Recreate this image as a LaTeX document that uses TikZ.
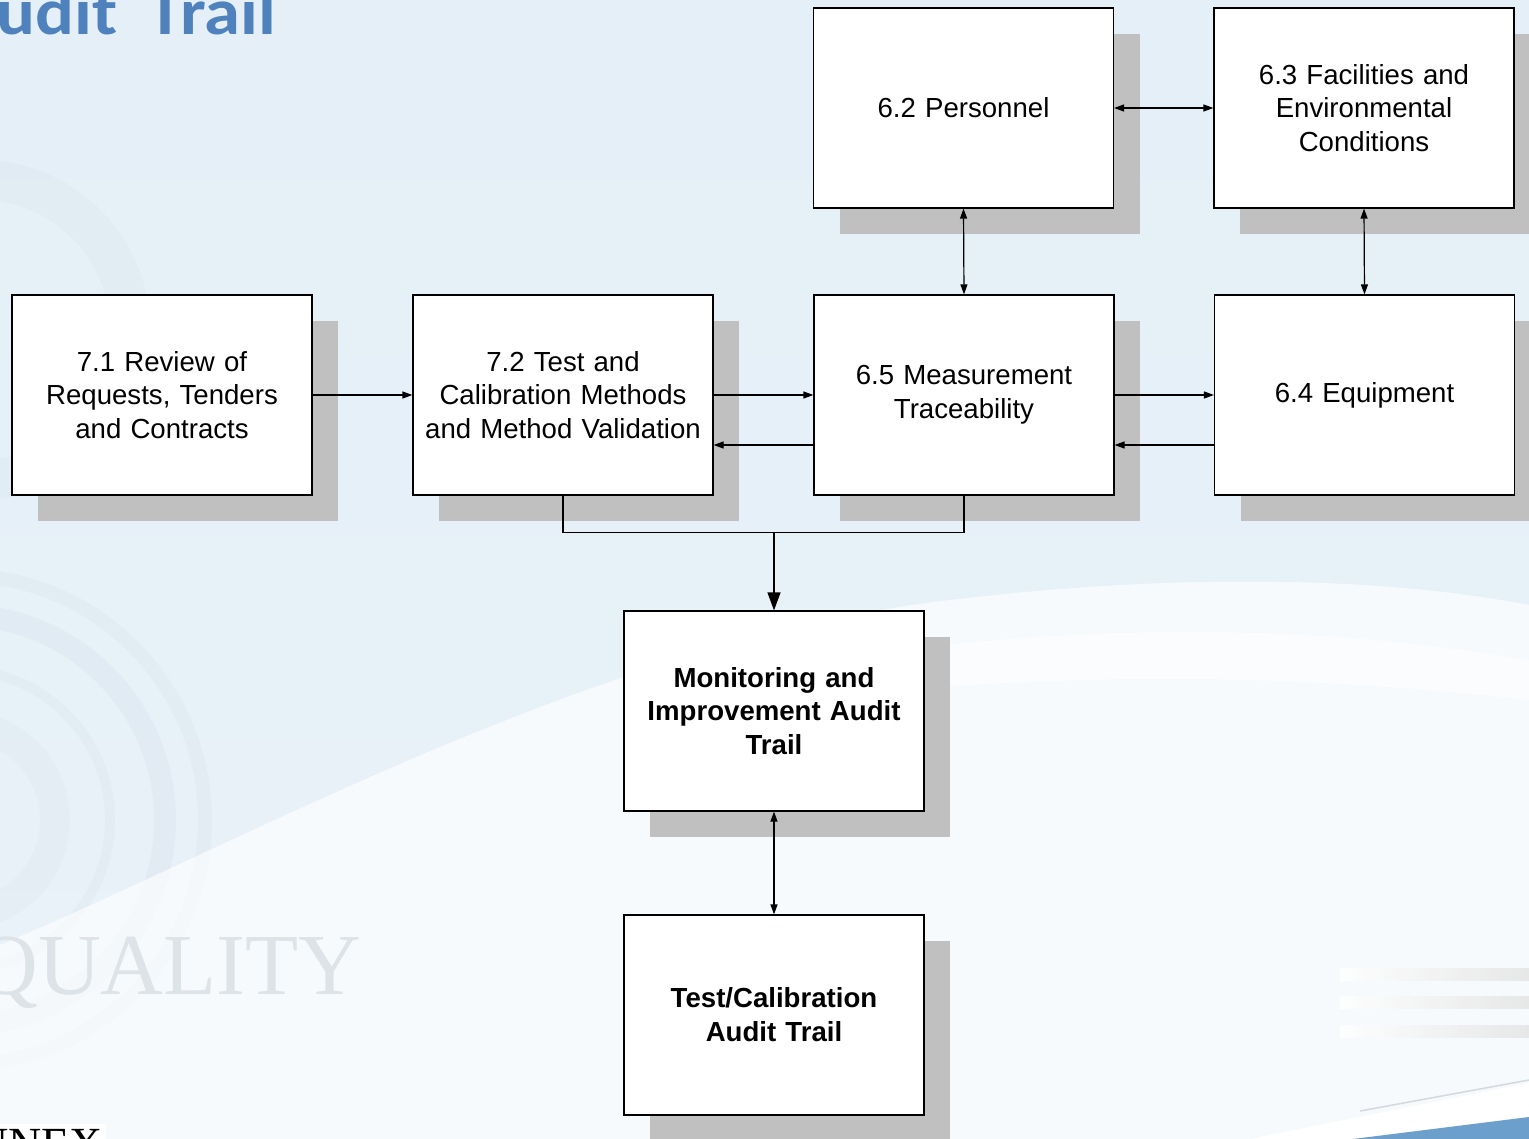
\documentclass[tikz,border=0pt]{standalone}
\usepackage{fontspec}
\setmainfont{Liberation Sans}
\newfontfamily\titlefont{Carlito}
\newfontfamily\serifmark{Liberation Serif}
\usetikzlibrary{arrows.meta,shadows,calc}

\definecolor{slidebg}{HTML}{E4EFF7}
\definecolor{slidewhite}{HTML}{F4F9FC}
\definecolor{shadowgray}{HTML}{C0C0C0}
\definecolor{titleblue}{HTML}{4F81BD}
\definecolor{markgray}{HTML}{DDE3E7}
\definecolor{stripeblue}{HTML}{6C9FCB}
\definecolor{gearshade}{HTML}{9FAAB3}

\tikzset{
  box/.style={draw=black, line width=1.2pt, fill=white,
    minimum width=300pt, minimum height=200pt, inner sep=0pt,
    text width=290pt, align=center,
    font=\fontsize{27.6}{33.8}\selectfont,
    drop shadow={shadow xshift=26pt, shadow yshift=-26pt, fill=shadowgray, opacity=1}},
  boldbox/.style={box, font=\fontsize{27.6}{33.8}\selectfont\bfseries},
  conn/.style={line width=1.2pt},
  link/.style={conn, -{Triangle[length=10pt,width=7pt]}},
  twoway/.style={conn, {Triangle[length=10pt,width=7pt]}-{Triangle[length=10pt,width=7pt]}},
  mainlink/.style={conn, -{Triangle[length=18pt,width=13pt]}}
}

\begin{document}
\begin{tikzpicture}[x=1pt, y=-1pt]
  \useasboundingbox (0,0) rectangle (1529,1139);
  \clip (0,0) rectangle (1529,1139);

  % slide background
  \shade[top color=slidebg, bottom color=slidebg!80!white] (0,0) rectangle (1529,1139);

  % faint gear at the left edge
  \foreach \r/\w/\o in {245/14/0.06, 205/22/0.07, 150/10/0.06, 95/30/0.05}
    \draw[gearshade, line width=\w pt, opacity=\o] (-40,820) circle (\r);
  \draw[gearshade, line width=40pt, opacity=0.05] (-20,330) circle (150);

  % white sweep across the lower part
  \fill[white, opacity=0.65]
    (0,945) .. controls (250,840) and (600,640) .. (950,600)
    .. controls (1200,570) and (1400,580) .. (1529,605)
    -- (1529,1139) -- (0,1139) -- cycle;
  \fill[white, opacity=0.5]
    (900,650) .. controls (1150,620) and (1350,630) .. (1529,660)
    -- (1529,700) .. controls (1350,680) and (1150,670) .. (900,690) -- cycle;

  % grey stripes and blue swoosh at lower right
  \foreach \yy in {968, 996, 1025}
    \shade[left color=white, right color=gray!22, opacity=0.8] (1340,\yy) rectangle (1529,\yy+12);
  \draw[gearshade!70, line width=1.5pt, opacity=0.6] (1360,1111) -- (1529,1080);
  \fill[white] (1250,1139) -- (1529,1083) -- (1529,1117) -- (1353,1139) -- cycle;
  \fill[stripeblue] (1353,1139) -- (1529,1117) -- (1529,1139) -- cycle;

  % slide title and watermark
  \node[anchor=base east, inner sep=0pt, text=titleblue, xscale=1.1,
        font=\titlefont\fontsize{66}{66}\selectfont\bfseries] (title) at (276,35) {Audit\hspace{13pt} Trail};
  \node[anchor=base east, inner sep=0pt, text=markgray,
        font=\serifmark\fontsize{87}{87}\selectfont] (mark) at (362,994) {QUALITY};
  \fill[white] (0,1124) rectangle (106,1139);
  \node[anchor=base east, inner sep=0pt, text=black,
        font=\serifmark\fontsize{46}{46}\selectfont] (annex) at (103,1159) {ANNEX};

  % process boxes
  \node[box] (p62) at (963.5,108) {6.2 Personnel};
  \node[box] (p63) at (1364,108) {6.3 Facilities and\\ Environmental\\ Conditions};
  \node[box] (p71) at (162,395) {7.1 Review of\\ Requests, Tenders\\ and Contracts};
  \node[box] (p72) at (563,395) {7.2 Test and\\ Calibration Methods\\ and Method Validation};
  \node[box] (p65) at (964,395) {6.5 Measurement\\ Traceability};
  \node[box] (p64) at (1364.5,395) {6.4 Equipment};
  \node[boldbox] (mon) at (774,711) {Monitoring and\\ Improvement Audit\\ Trail};
  \node[boldbox] (tca) at (774,1015) {Test/Calibration\\ Audit Trail};

  % connectors
  \draw[link] (p71.east) -- (p72.west);
  \draw[link] (p72.east) -- (p65.west);
  \draw[link] ([yshift=-50pt]p65.west) -- ([yshift=-50pt]p72.east);
  \draw[link] (p65.east) -- (p64.west);
  \draw[link] ([yshift=-50pt]p64.west) -- ([yshift=-50pt]p65.east);
  \draw[twoway] (p62.east) -- (p63.west);
  \draw[twoway] (p62.south) -- (p65.north);
  \draw[twoway] (p63.south) -- (p64.north);

  \coordinate (merge) at ($(mon.north)+(0,-78)$);
  \draw[conn] (p72.south) |- (merge) -| (p65.south);
  \draw[mainlink] (merge) -- (mon.north);
  \draw[twoway] (mon.south) -- (tca.north);
\end{tikzpicture}
\end{document}
